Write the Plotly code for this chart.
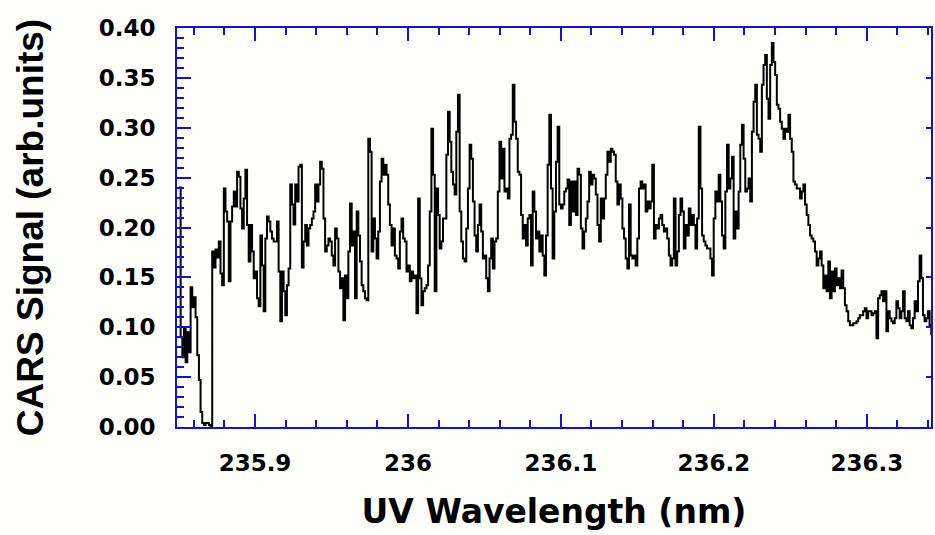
import plotly.graph_objects as go

# ---- data ----
wl_start = 235.8503      # nm, first sample
wl_step = 0.0010858      # nm, sampling step of the scan

seg1 = [0.24, 0.09, 0.07, 0.10, 0.065, 0.095, 0.075, 0.14, 0.12, 0.13,
        0.11, 0.072, 0.047, 0.015, 0.004, 0.002, 0.004, 0.004, 0.002, 0.0,
        0.176, 0.16, 0.178, 0.17, 0.186, 0.154, 0.142, 0.239, 0.216, 0.206,
        0.146, 0.206, 0.221, 0.236, 0.221, 0.256, 0.251, 0.219, 0.199, 0.229,
        0.258, 0.2025, 0.166, 0.2025, 0.176, 0.149, 0.156, 0.129, 0.121, 0.192,
        0.162, 0.116, 0.189, 0.211, 0.206, 0.196, 0.189, 0.186, 0.186, 0.206,
        0.156, 0.106, 0.156, 0.136, 0.112, 0.142, 0.159, 0.243, 0.223, 0.203,
        0.243, 0.226, 0.261]
seg2 = [0.263, 0.16, 0.186, 0.2025, 0.182, 0.199, 0.2025, 0.209, 0.216, 0.243,
        0.226, 0.243, 0.266, 0.259, 0.209, 0.176, 0.182, 0.189, 0.186, 0.172,
        0.162, 0.199, 0.189, 0.156, 0.139, 0.149, 0.107, 0.152, 0.129, 0.176,
        0.224, 0.182, 0.196, 0.129, 0.216, 0.192, 0.166, 0.142, 0.136, 0.129,
        0.127, 0.289, 0.276, 0.176, 0.209, 0.189, 0.169, 0.196, 0.246, 0.269,
        0.253, 0.263, 0.253, 0.223, 0.2025, 0.182, 0.199, 0.172, 0.169, 0.159,
        0.196, 0.209, 0.189, 0.186, 0.156, 0.162, 0.146, 0.156, 0.149, 0.152,
        0.114, 0.229, 0.149, 0.122, 0.136]
seg3 = [0.139, 0.142, 0.162, 0.216, 0.299, 0.253, 0.136, 0.239, 0.2125, 0.179,
        0.186, 0.209, 0.209, 0.273, 0.316, 0.286, 0.256, 0.243, 0.233, 0.296,
        0.333, 0.216, 0.186, 0.169, 0.166, 0.199, 0.239, 0.283, 0.269, 0.226,
        0.192, 0.176, 0.2025, 0.223, 0.196, 0.169, 0.172, 0.149, 0.136, 0.169,
        0.189, 0.159, 0.186, 0.189, 0.236, 0.286, 0.249, 0.279, 0.236, 0.239,
        0.229, 0.289, 0.293, 0.343, 0.306, 0.289, 0.256, 0.253, 0.2125, 0.189,
        0.2025, 0.182, 0.209, 0.2125, 0.162, 0.236, 0.216, 0.189, 0.196, 0.176,
        0.192, 0.172, 0.152, 0.192, 0.263]
seg4 = [0.313, 0.239, 0.169, 0.216, 0.266, 0.301, 0.223, 0.219, 0.223, 0.236,
        0.239, 0.248, 0.2025, 0.246, 0.216, 0.246, 0.2125, 0.259, 0.253, 0.199,
        0.179, 0.196, 0.209, 0.226, 0.256, 0.243, 0.253, 0.249, 0.233, 0.2025,
        0.186, 0.229, 0.209, 0.229, 0.253, 0.276, 0.266, 0.279, 0.276, 0.273,
        0.246, 0.223, 0.243, 0.229, 0.199, 0.189, 0.169, 0.159, 0.223, 0.172,
        0.169, 0.172, 0.162, 0.189, 0.239, 0.246, 0.239, 0.243, 0.216, 0.226,
        0.219, 0.226, 0.263, 0.189, 0.2025, 0.199, 0.209, 0.2125, 0.2025, 0.196,
        0.199, 0.189, 0.172, 0.162, 0.169]
seg5 = [0.229, 0.162, 0.176, 0.2125, 0.229, 0.216, 0.179, 0.2025, 0.192, 0.219,
        0.2025, 0.2125, 0.2025, 0.179, 0.209, 0.301, 0.239, 0.192, 0.186, 0.182,
        0.179, 0.179, 0.169, 0.152, 0.209, 0.236, 0.226, 0.253, 0.226, 0.192,
        0.179, 0.236, 0.283, 0.239, 0.249, 0.271, 0.189, 0.216, 0.199, 0.236,
        0.283, 0.303, 0.269, 0.236, 0.239, 0.249, 0.226, 0.296, 0.326, 0.343,
        0.293, 0.289, 0.276, 0.343, 0.363, 0.373, 0.329, 0.309, 0.363, 0.385,
        0.366, 0.353, 0.323, 0.319, 0.306, 0.299, 0.289, 0.299, 0.296, 0.313,
        0.289, 0.276, 0.246, 0.243, 0.239]
seg6 = [0.239, 0.229, 0.236, 0.243, 0.223, 0.2125, 0.2025, 0.192, 0.189, 0.186,
        0.176, 0.162, 0.169, 0.176, 0.162, 0.139, 0.152, 0.136, 0.166, 0.129,
        0.156, 0.136, 0.159, 0.142, 0.149, 0.139, 0.157, 0.139, 0.122, 0.116,
        0.106, 0.102, 0.102, 0.104, 0.104, 0.106, 0.109, 0.112, 0.112, 0.116,
        0.119, 0.109, 0.116, 0.116, 0.112, 0.114, 0.116, 0.089, 0.129, 0.132,
        0.136, 0.126, 0.136, 0.096, 0.116, 0.109, 0.106, 0.104, 0.109, 0.126,
        0.119, 0.109, 0.116, 0.136, 0.109, 0.106, 0.116, 0.102, 0.099, 0.109,
        0.126, 0.116, 0.146, 0.172, 0.149, 0.112, 0.106, 0.109, 0.116, 0.102,
        0.092]

signal = seg1 + seg2 + seg3 + seg4 + seg5 + seg6
wavelength = [wl_start + i * wl_step for i in range(len(signal))]

x_tick_vals = [235.9, 236.0, 236.1, 236.2, 236.3]
x_tick_text = ["235.9", "236", "236.1", "236.2", "236.3"]
y_tick_vals = [0.00, 0.05, 0.10, 0.15, 0.20, 0.25, 0.30, 0.35, 0.40]
y_tick_text = ["0.00", "0.05", "0.10", "0.15", "0.20", "0.25", "0.30", "0.35", "0.40"]

x_range = [235.849, 236.342]
y_range = [0.0, 0.40]

# ---- figure ----
BLUE = "#1010e0"
BG = "rgb(254,254,250)"
FONT = "DejaVu Sans"

fig = go.Figure()
fig.add_trace(go.Scatter(
    x=wavelength, y=signal, mode="lines",
    line=dict(color="black", width=2, shape="hv"),
    showlegend=False, hoverinfo="skip",
))
# helper trace for the right-hand tick axis
fig.add_trace(go.Scatter(
    x=[wavelength[0]], y=[0], yaxis="y2", mode="markers",
    marker=dict(opacity=0), showlegend=False, hoverinfo="skip",
))

tickfont = dict(family=FONT, size=23, color="black", weight="bold")

fig.update_layout(
    width=935, height=535,
    margin=dict(l=177, r=2, t=28, b=108),
    paper_bgcolor=BG, plot_bgcolor=BG,
    xaxis=dict(
        range=x_range, tickvals=x_tick_vals, ticktext=x_tick_text,
        ticks="inside", ticklen=13, tickwidth=2, tickcolor=BLUE,
        showline=True, linecolor=BLUE, linewidth=2, mirror="ticks",
        showgrid=False, zeroline=False,
        minor=dict(dtick=0.02, tick0=235.9, ticks="inside", ticklen=7,
                   tickwidth=2, tickcolor=BLUE, showgrid=False),
        tickfont=tickfont, ticklabelstandoff=14,
        title=dict(text="UV Wavelength (nm)", standoff=25,
                   font=dict(family=FONT, size=33, color="black", weight="bold")),
    ),
    yaxis=dict(
        range=y_range, tickvals=y_tick_vals, ticktext=y_tick_text,
        ticks="inside", ticklen=14, tickwidth=2, tickcolor=BLUE,
        showline=True, linecolor=BLUE, linewidth=2, mirror=True,
        showgrid=False, zeroline=False,
        minor=dict(dtick=0.01, tick0=0, ticks="inside", ticklen=7,
                   tickwidth=2, tickcolor=BLUE, showgrid=False),
        tickfont=tickfont, ticklabelstandoff=15,
        title=dict(text="CARS Signal (arb.units)", standoff=44,
                   font=dict(family="Liberation Sans", size=37, color="black",
                             weight="bold")),
    ),
    yaxis2=dict(
        range=y_range, overlaying="y", side="right", anchor="x",
        tickvals=y_tick_vals, showticklabels=False,
        ticks="inside", ticklen=5, tickwidth=2, tickcolor=BLUE,
        showline=False, showgrid=False, zeroline=False,
    ),
)

fig.write_html("out.html",
               config={"displayModeBar": False},
               post_script="document.body.style.margin='0px';"
                           "document.body.style.overflow='hidden';")
